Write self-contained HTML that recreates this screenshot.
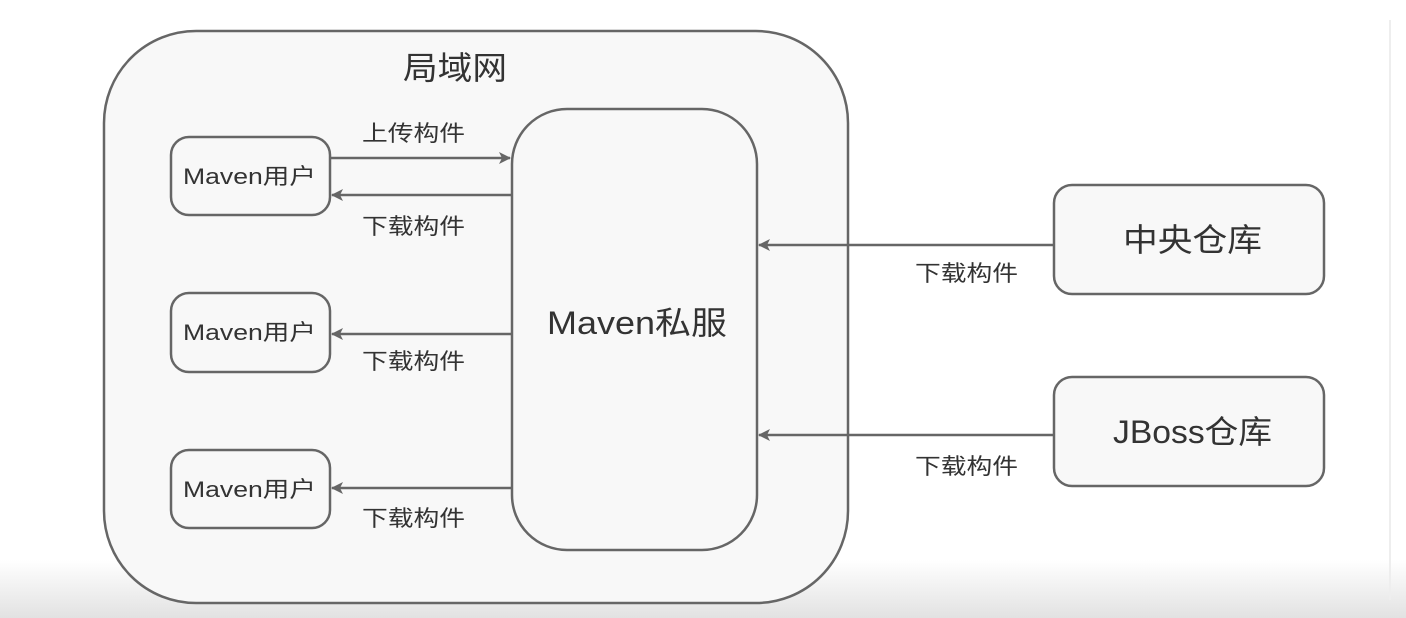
<!DOCTYPE html>
<html><head><meta charset="utf-8"><style>
body{margin:0;width:1406px;height:618px;overflow:hidden;background:#fff;font-family:"Liberation Sans","Noto Sans CJK SC",sans-serif;}
</style></head><body>
<svg width="1406" height="618" xmlns="http://www.w3.org/2000/svg" style="position:absolute;left:0;top:0">
<defs>
<linearGradient id="g" x1="0" y1="0" x2="0" y2="1"><stop offset="0" stop-color="#fff"/><stop offset="1" stop-color="#e2e2e2"/></linearGradient>
<marker id="a" markerWidth="12" markerHeight="12" refX="11" refY="6" orient="auto" markerUnits="userSpaceOnUse"><path d="M0,0 L12,6 L0,12 L3,6 z" fill="#666"/></marker>
</defs>
<rect x="0" y="560" width="1406" height="58" fill="url(#g)"/>
<line x1="1390" y1="20" x2="1390" y2="600" stroke="#eee" stroke-width="2"/>
<g stroke="#666" stroke-width="2.5" fill="#f8f8f8">
<rect x="104" y="31" width="744" height="572" rx="92"/>
<rect x="512" y="109" width="245" height="441" rx="55"/>
<rect x="171" y="137" width="159" height="78" rx="18"/>
<rect x="171" y="293" width="159" height="79" rx="18"/>
<rect x="171" y="450" width="159" height="78" rx="18"/>
<rect x="1054" y="185" width="270" height="109" rx="18"/>
<rect x="1054" y="377" width="270" height="109" rx="18"/>
</g>
<g stroke="#666" stroke-width="2.5" fill="none" marker-end="url(#a)">
<line x1="330" y1="158" x2="510" y2="158"/>
<line x1="512" y1="195" x2="332" y2="195"/>
<line x1="512" y1="334" x2="332" y2="334"/>
<line x1="512" y1="488" x2="332" y2="488"/>
<line x1="1054" y1="245" x2="759" y2="245"/>
<line x1="1054" y1="435" x2="759" y2="435"/>
</g>
<g fill="#333" font-family="Liberation Sans,Noto Sans CJK SC,sans-serif" lengthAdjust="spacingAndGlyphs">
<text x="403" y="79" font-size="32" textLength="104" lengthAdjust="spacingAndGlyphs">局域网</text>
<text x="547" y="334" font-size="32" textLength="180" lengthAdjust="spacingAndGlyphs">Maven私服</text>
<text x="183" y="184" font-size="22" textLength="133" lengthAdjust="spacingAndGlyphs">Maven用户</text>
<text x="183" y="340" font-size="22" textLength="133" lengthAdjust="spacingAndGlyphs">Maven用户</text>
<text x="183" y="497" font-size="22" textLength="133" lengthAdjust="spacingAndGlyphs">Maven用户</text>
<text x="1123" y="251" font-size="32" textLength="139" lengthAdjust="spacingAndGlyphs">中央仓库</text>
<text x="1113" y="443" font-size="32" textLength="159" lengthAdjust="spacingAndGlyphs">JBoss仓库</text>
<g font-size="22">
<text x="362" y="141" textLength="103" lengthAdjust="spacingAndGlyphs">上传构件</text>
<text x="362" y="234" textLength="103" lengthAdjust="spacingAndGlyphs">下载构件</text>
<text x="362" y="369" textLength="103" lengthAdjust="spacingAndGlyphs">下载构件</text>
<text x="362" y="526" textLength="103" lengthAdjust="spacingAndGlyphs">下载构件</text>
<text x="915" y="281" textLength="103" lengthAdjust="spacingAndGlyphs">下载构件</text>
<text x="915" y="474" textLength="103" lengthAdjust="spacingAndGlyphs">下载构件</text>
</g>
</g>
</svg>
</body></html>
